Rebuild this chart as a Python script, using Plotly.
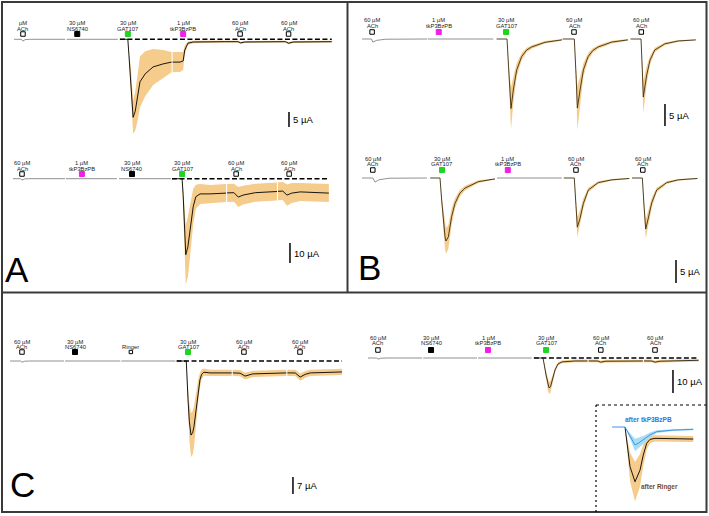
import plotly.graph_objects as go

W, H = 709, 516
FONT = "Liberation Sans, Arial, sans-serif"

# ---------------- DATA (time in s, current in µA; pieces separated by recording gaps) ----------------
# Panel A, top row
a1_time = [[0, 14, 17, 21, 30, 97],
           [100, 197],
           [201, 216, 218, 222, 226, 230, 234, 239, 249, 264, 283, 299],
           [301, 315, 321, 324, 330, 340, 400, 425, 430, 438, 515, 521, 530, 603]]
a1_mean = [[0, 0, -0.6, -0.1, 0, 0],
           [0, 0],
           [0, 0, -5, -15, -26, -24, -20, -14.2, -11.5, -9.2, -8.2, -7.6],
           [-7.6, -7.6, -7.2, -3.6, -1.3, -0.9, -0.8, -0.8, -1.2, -0.9, -0.8, -1.3, -0.9, -0.8]]
a1_sd = [[0, 0, 0, 0, 0, 0],
         [0, 0],
         [0, 0, 1, 5, 5.5, 6.5, 7.5, 8.5, 7.5, 6, 4.6, 3.4],
         [3.4, 3.3, 3.0, 1.5, 0.6, 0.4, 0.3, 0.3, 0.4, 0.3, 0.3, 0.4, 0.3, 0.3]]
a1_app_time = [17, 120, 216, 321, 429, 521]
a1_app_dose = ["µM", "30 µM", "30 µM", "1 µM", "60 µM", "60 µM"]
a1_app_drug = ["ACh", "NS6740", "GAT107", "tkP3BzPB", "ACh", "ACh"]

# Panel A, bottom row
a2_time = [[0, 14, 17, 22, 30, 98],
           [100, 196],
           [200, 298],
           [300, 319, 321, 323.6, 326, 330, 334, 340, 345, 353, 372, 402],
           [404, 417, 425, 434, 457, 498],
           [500, 509, 517, 526, 542, 596]]
a2_mean = [[0, 0, -0.7, -0.1, 0, 0],
           [0, 0],
           [0, 0],
           [0, 0, -8, -25, -38, -34, -26, -14, -9, -7.6, -7.6, -7.2],
           [-7.1, -7, -9.2, -8.2, -7, -6.4],
           [-6.3, -6.2, -8.2, -7.2, -6.6, -7.2]]
a2_sd = [[0, 0, 0, 0, 0, 0],
         [0, 0],
         [0, 0],
         [0, 0, 3, 10, 15, 15, 13, 9, 6, 5, 4.5, 4.5],
         [4.5, 4.5, 5, 4.7, 4.5, 4.5],
         [4.5, 4.5, 5.3, 5, 4.5, 4.5]]
a2_app_time = [17, 130, 224.5, 319, 421, 521]
a2_app_dose = ["60 µM", "1 µM", "30 µM", "30 µM", "60 µM", "60 µM"]
a2_app_drug = ["ACh", "tkP3BzPB", "NS6740", "GAT107", "ACh", "ACh"]

# Panel B, top row
b1_time = [[0, 14, 16, 22, 35, 97],
           [98, 195],
           [200, 215.5, 218.4, 221.4, 224.8, 229.9, 237.3, 244.7, 252.2, 271.9, 297],
           [298, 315.5, 318, 320, 324, 329, 336, 343, 351, 371, 395],
           [399, 414.6, 416.5, 418, 423, 428, 435, 450, 470, 496]]
b1_mean = [[0, 0, -0.7, -0.3, -0.05, 0],
           [0, 0],
           [0, 0, -8, -15.8, -11.6, -7, -4, -2.5, -1.8, -0.75, -0.2],
           [0, 0, -8, -15.7, -11.6, -7, -4, -2.6, -1.8, -0.7, -0.2],
           [0, 0, -7, -13.2, -8.2, -4.8, -2.5, -1.1, -0.45, -0.2]]
b1_sd = [[0, 0, 0, 0, 0, 0],
         [0, 0],
         [0, 0, 1.5, 4.8, 3, 1.5, 0.8, 0.5, 0.4, 0.3, 0.2],
         [0, 0, 1.5, 5.0, 3, 1.5, 0.8, 0.5, 0.4, 0.3, 0.2],
         [0, 0, 1.2, 3.6, 2, 1, 0.5, 0.3, 0.2, 0.1]]
b1_app_time = [15, 114, 214, 315, 415]
b1_app_dose = ["60 µM", "1 µM", "30 µM", "60 µM", "60 µM"]
b1_app_drug = ["ACh", "tkP3BzPB", "GAT107", "ACh", "ACh"]

# Panel B, bottom row
b2_time = [[0, 16, 19.3, 25, 40, 96],
           [101, 115.6, 118, 120.5, 123, 124.4, 127.9, 132.8, 137.8, 145, 152.6, 172.3, 197],
           [200, 296],
           [299, 314.5, 317, 319, 323, 328, 335.3, 350, 370, 396],
           [400, 415.3, 418, 420.3, 424.2, 429.2, 436.6, 451.4, 468.6, 497]]
b2_mean = [[0, 0, -0.9, -0.4, -0.05, 0],
           [0, 0, -4.8, -9.1, -12.8, -13.7, -12.8, -8.4, -5.5, -3.3, -2.2, -0.8, -0.2],
           [0, 0],
           [0, 0, -6, -10.7, -8.8, -5.5, -2.6, -1, -0.4, -0.1],
           [0, 0, -6.5, -11.1, -8.7, -5.4, -2.6, -1, -0.4, -0.1]]
b2_sd = [[0, 0, 0, 0, 0, 0],
         [0, 0, 1, 2, 2.6, 2.8, 2.6, 1.8, 1.1, 0.7, 0.5, 0.3, 0.1],
         [0, 0],
         [0, 0, 1.2, 2.2, 1.8, 1.1, 0.5, 0.3, 0.2, 0.1],
         [0, 0, 1.2, 2.1, 1.7, 1.1, 0.5, 0.3, 0.2, 0.1]]
b2_app_time = [16, 118.5, 216, 317, 416]
b2_app_dose = ["60 µM", "30 µM", "1 µM", "60 µM", "60 µM"]
b2_app_drug = ["ACh", "GAT107", "tkP3BzPB", "ACh", "ACh"]

# Panel C, left row
c1_time = [[0, 19, 21.5, 26, 35, 97],
           [99, 198],
           [200, 297],
           [300, 316.5, 319.6, 322, 325, 328, 330.3, 333, 335.7, 338, 341, 344, 348, 359, 398],
           [400, 413, 422, 428, 436, 496],
           [498, 512, 521, 530, 539, 596]]
c1_mean = [[0, 0, -0.5, -0.1, 0, 0],
           [0, 0],
           [0, 0],
           [0, 0, -16, -25, -30.5, -29.5, -27, -22, -17.3, -12, -7.8, -5.5, -4.6, -4.9, -4.9],
           [-4.9, -5, -6.2, -5.8, -5.3, -4.9],
           [-4.9, -4.9, -6.6, -5.5, -4.9, -4.5]]
c1_sd = [[0, 0, 0, 0, 0, 0],
         [0, 0],
         [0, 0],
         [0, 0, 5, 7.5, 9, 9, 8.5, 7.5, 6, 4.5, 3, 2, 1.5, 1.3, 1.3],
         [1.3, 1.3, 1.4, 1.4, 1.3, 1.3],
         [1.3, 1.3, 1.5, 1.4, 1.3, 1.3]]
c1_app_time = [21.5, 116.7, 217, 319.6, 420, 520.6]
c1_app_dose = ["60 µM", "30 µM", "", "30 µM", "60 µM", "60 µM"]
c1_app_drug = ["ACh", "NS6740", "Ringer", "GAT107", "ACh", "ACh"]

# Panel C, right row
c2_time = [[0, 16, 18, 23, 35, 98],
           [100, 197],
           [199, 296],
           [300, 316.5, 322, 325, 327.3, 330, 332.7, 335.5, 338.2, 343.6, 350.8, 374, 397],
           [399, 415, 421, 430, 497],
           [499, 513, 519, 528, 598]]
c2_mean = [[0, 0, -0.5, -0.1, 0, 0],
           [0, 0],
           [0, 0],
           [0, 0, -7.4, -11.5, -13, -12.5, -10.4, -7.8, -5.2, -2.6, -1.7, -1.3, -1.3],
           [-1.3, -1.3, -1.8, -1.4, -1.3],
           [-1.3, -1.3, -1.8, -1.4, -1.0]]
c2_sd = [[0, 0, 0, 0, 0, 0],
         [0, 0],
         [0, 0],
         [0, 0, 1.5, 2.3, 2.6, 2.5, 2, 1.5, 1, 0.7, 0.6, 0.6, 0.6],
         [0.6, 0.6, 0.6, 0.6, 0.5],
         [0.6, 0.6, 0.6, 0.6, 0.5]]
c2_app_time = [18, 114, 217, 322, 421, 519]
c2_app_dose = ["60 µM", "30 µM", "1 µM", "30 µM", "60 µM", "60 µM"]
c2_app_drug = ["ACh", "NS6740", "tkP3BzPB", "GAT107", "ACh", "ACh"]

# Inset: GAT107 response after tkP3BzPB vs after Ringer
ins_tk_time = [0, 16.25, 22.5, 28.75, 33, 39.1, 47.5, 55.9, 76.6, 101.6]
ins_tk_mean = [0, 0, -5, -10, -9, -7.2, -4.4, -2.6, -1.7, -1.3]
ins_tk_sd = [0, 0, 1.5, 3.5, 3, 2.2, 1.3, 0.8, 0.5, 0.5]
ins_ri_time = [16.25, 22.5, 28.75, 35, 39.1, 43.4, 47.5, 53.75, 101.6]
ins_ri_mean = [0, -22, -30.4, -24, -15.6, -9, -6.9, -6.3, -6.7]
ins_ri_sd = [0, 8, 11, 9, 6, 3.5, 2, 1.7, 1.7]

# ---------------- STYLE / LAYOUT ----------------
BAND = "#F5CC8B"
GRAY = "#858585"
BOX_STYLE = {
    "ACh": dict(fill="white", line="black", size=4.5),
    "Ringer": dict(fill="white", line="black", size=3.4),
    "NS6740": dict(fill="black", line="black", size=5),
    "GAT107": dict(fill="#1FD51F", line="#1FD51F", size=5),
    "tkP3BzPB": dict(fill="#F01EE6", line="#F01EE6", size=5),
}

rows = [
    dict(t=a1_time, m=a1_mean, s=a1_sd, at=a1_app_time, ad=a1_app_dose, ag=a1_app_drug,
         px0=14, kx=0.527, py0=39.3, ky=3.0, off=(16.3, 10.3, 5.3), dash=(201, 603),
         bar=(521.8, -24.2, 5), bar_txt="5 µA", line="black"),
    dict(t=a2_time, m=a2_mean, s=a2_sd, at=a2_app_time, ad=a2_app_dose, ag=a2_app_drug,
         px0=13, kx=0.53, py0=178.7, ky=2.0, off=(15.7, 9.7, 4.7), dash=(300, 595),
         bar=(522.6, -32.2, 10), bar_txt="10 µA", line="black"),
    dict(t=b1_time, m=b1_mean, s=b1_sd, at=b1_app_time, ad=b1_app_dose, ag=b1_app_drug,
         px0=362, kx=0.673, py0=39, ky=4.4, off=(19, 13, 7), dash=None,
         bar=(450.2, -14.8, 5), bar_txt="5 µA", line="#3d2f12"),
    dict(t=b2_time, m=b2_mean, s=b2_sd, at=b2_app_time, ad=b2_app_dose, ag=b2_app_drug,
         px0=362, kx=0.675, py0=178, ky=4.6, off=(19, 14, 8), dash=None,
         bar=(465.2, -17.8, 5), bar_txt="5 µA", line="#3d2f12"),
    dict(t=c1_time, m=c1_mean, s=c1_sd, at=c1_app_time, ad=c1_app_dose, ag=c1_app_drug,
         px0=10, kx=0.557, py0=361, ky=2.43, off=(19, 14, 9), dash=(299, 596),
         bar=(508, -47.7, 7), bar_txt="7 µA", line="black"),
    dict(t=c2_time, m=c2_mean, s=c2_sd, at=c2_app_time, ad=c2_app_dose, ag=c2_app_drug,
         px0=368, kx=0.553, py0=358, ky=2.3, off=(20, 15, 8), dash=(300, 598),
         bar=(551.5, -5.2, 10), bar_txt="10 µA", line="#2a2418"),
]
inset_cfg = dict(px0=612, kx=0.8, py0=427, ky=1.8)

fig = go.Figure()
layout_axes = {}
shapes = []
annos = []


def axis_ids(i):
    sfx = "" if i == 0 else str(i + 1)
    return "x" + sfx, "y" + sfx, "xaxis" + sfx, "yaxis" + sfx


def add_axes(i, cfg):
    xr, yr, xk, yk = axis_ids(i)
    layout_axes[xk] = dict(domain=[0, 1], range=[-cfg["px0"] / cfg["kx"], (W - cfg["px0"]) / cfg["kx"]],
                           visible=False, fixedrange=True, anchor=yr)
    layout_axes[yk] = dict(domain=[0, 1], range=[-(H - cfg["py0"]) / cfg["ky"], cfg["py0"] / cfg["ky"]],
                           visible=False, fixedrange=True, anchor=xr)
    return xr, yr


def add_series(t, m, s, xr, yr, band_color, line_color, line_w=0.9):
    up = [a + b for a, b in zip(m, s)]
    lo = [a - b for a, b in zip(m, s)]
    if max(s) > 0:
        fig.add_trace(go.Scatter(x=list(t) + list(t)[::-1], y=up + lo[::-1], fill="toself",
                                 fillcolor=band_color, line=dict(width=0), mode="lines",
                                 hoverinfo="skip", showlegend=False, xaxis=xr, yaxis=yr))
    return dict(x=t, y=m, color=line_color, w=line_w, xr=xr, yr=yr)


pending_lines = []
for i, r in enumerate(rows):
    xr, yr = add_axes(i, r)
    for t, m, s in zip(r["t"], r["m"], r["s"]):
        col = r["line"] if max(s) > 0 else GRAY
        pending_lines.append(add_series(t, m, s, xr, yr, BAND, col))
    if r["dash"]:
        fig.add_trace(go.Scatter(x=list(r["dash"]), y=[0, 0], mode="lines",
                                 line=dict(color="black", width=1.4, dash="5px,2.5px"),
                                 hoverinfo="skip", showlegend=False, xaxis=xr, yaxis=yr))
    # application labels and boxes
    for at, dose, drug in zip(r["at"], r["ad"], r["ag"]):
        if dose:
            annos.append(dict(x=at, y=0, xref=xr, yref=yr, text=dose, showarrow=False,
                              xanchor="center", yanchor="middle",
                              yshift=r["off"][0], font=dict(size=5.8, color="#222", family=FONT)))
        annos.append(dict(x=at, y=0, xref=xr, yref=yr, text=drug, showarrow=False,
                          xanchor="center", yanchor="middle",
                          yshift=r["off"][1], font=dict(size=5.8, color="#222", family=FONT)))
        st = BOX_STYLE[drug]
        h = st["size"] / 2
        shapes.append(dict(type="rect", xref=xr, yref=yr, xsizemode="pixel", ysizemode="pixel",
                           xanchor=at, yanchor=0, x0=-h, x1=h,
                           y0=r["off"][2] - h, y1=r["off"][2] + h,
                           fillcolor=st["fill"], line=dict(color=st["line"], width=1)))
    # scale bar
    bt, btop, blen = r["bar"]
    shapes.append(dict(type="line", xref=xr, yref=yr, x0=bt, x1=bt, y0=btop, y1=btop - blen,
                       line=dict(color="black", width=1.5)))
    annos.append(dict(x=bt, y=btop - blen / 2, xref=xr, yref=yr, text=r["bar_txt"], showarrow=False,
                      xanchor="left", yanchor="middle", xshift=2,
                      font=dict(size=9.5, color="black", family=FONT)))

# inset
xi, yi = add_axes(len(rows), inset_cfg)
pending_lines.append(add_series(ins_ri_time, ins_ri_mean, ins_ri_sd, xi, yi, BAND, "black"))
pending_lines.append(add_series(ins_tk_time, ins_tk_mean, ins_tk_sd, xi, yi, "#A9DDF3", "#3D95E6", 1.0))
annos.append(dict(x=45, y=3.9, xref=xi, yref=yi, text="<b>after tkP3BzPB</b>", showarrow=False,
                  xanchor="center", yanchor="middle",
                  font=dict(size=6.5, color="#2A78E0", family=FONT)))
annos.append(dict(x=59, y=-33.3, xref=xi, yref=yi, text="<b>after Ringer</b>", showarrow=False,
                  xanchor="center", yanchor="middle",
                  font=dict(size=6.5, color="#7A4A14", family=FONT)))

for pl in pending_lines:
    fig.add_trace(go.Scatter(x=pl["x"], y=pl["y"], mode="lines", line=dict(color=pl["color"], width=pl["w"]),
                             hoverinfo="skip", showlegend=False, xaxis=pl["xr"], yaxis=pl["yr"]))

# panel frames (paper coordinates from pixels)
def px(x):
    return x / W


def py(y):
    return 1 - y / H


BORDER = dict(color="#3a3a3a", width=2)
shapes += [
    dict(type="rect", xref="paper", yref="paper", x0=px(2), x1=px(706.5), y0=py(512), y1=py(2), line=BORDER),
    dict(type="line", xref="paper", yref="paper", x0=px(347.5), x1=px(347.5), y0=py(2), y1=py(292.5), line=BORDER),
    dict(type="line", xref="paper", yref="paper", x0=px(2), x1=px(706.5), y0=py(292.5), y1=py(292.5), line=BORDER),
    dict(type="line", xref="paper", yref="paper", x0=px(596), x1=px(706.5), y0=py(405), y1=py(405),
         line=dict(color="black", width=1.2, dash="3px,3px")),
    dict(type="line", xref="paper", yref="paper", x0=px(596), x1=px(596), y0=py(405), y1=py(512),
         line=dict(color="black", width=1.2, dash="2px,3px")),
]
for letter, lx, ly in [("A", 16.5, 269.5), ("B", 369, 267.5), ("C", 22.5, 484.5)]:
    annos.append(dict(x=px(lx), y=py(ly), xref="paper", yref="paper", text=letter, showarrow=False,
                      xanchor="center", yanchor="middle",
                      font=dict(size=35, color="black", family=FONT)))

fig.update_layout(width=W, height=H, margin=dict(l=0, r=0, t=0, b=0), autosize=False,
                  paper_bgcolor="white", plot_bgcolor="rgba(0,0,0,0)", showlegend=False,
                  shapes=shapes, annotations=annos, **layout_axes)
fig.write_html("out.html", config=dict(displayModeBar=False, staticPlot=True),
               post_script="document.body.style.margin='0';document.body.style.overflow='hidden';")
